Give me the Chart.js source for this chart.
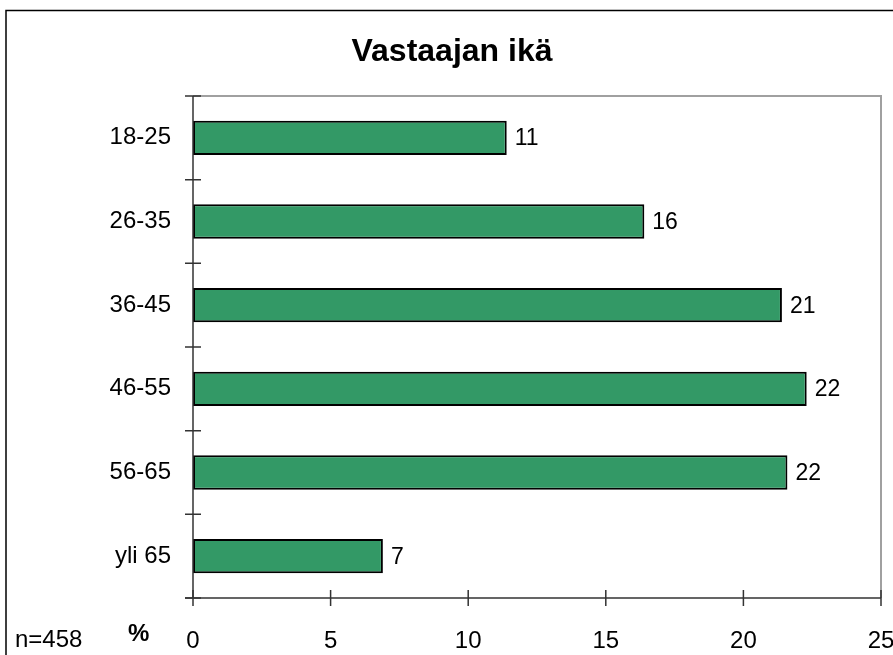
<!DOCTYPE html>
<html>
<head>
<meta charset="utf-8">
<title>Vastaajan ikä</title>
<script src="https://cdn.jsdelivr.net/npm/chart.js@4/dist/chart.umd.min.js"></script>
<style>
  html, body { margin: 0; padding: 0; background: #fff; }
  canvas { display: block; }
</style>
</head>
<body>
<canvas id="ageChart" width="893" height="655"></canvas>
<script>
// age groups and share of respondents (%)
var ageGroups = ['18-25', '26-35', '36-45', '46-55', '56-65', 'yli 65'];
var shares = [11.4, 16.4, 21.4, 22.3, 21.6, 6.9];
var xTicks = [0, 5, 10, 15, 20, 25];
var sampleNote = 'n=458';
var unitNote = '%';

var FONT = '"Liberation Sans", Arial, sans-serif';

// frame, cross ticks, value labels and the n / % notes
var decorations = {
  id: 'decorations',
  beforeDraw: function (chart) {
    var ctx = chart.ctx;
    ctx.save();
    ctx.fillStyle = '#fff';
    ctx.fillRect(0, 0, chart.width, chart.height);
    ctx.strokeStyle = '#000';
    ctx.lineWidth = 1.5;
    ctx.beginPath();
    ctx.moveTo(6, chart.height + 5);
    ctx.lineTo(6, 10.5);
    ctx.lineTo(chart.width + 5, 10.5);
    ctx.stroke();
    ctx.restore();
  },
  afterDatasetsDraw: function (chart) {
    var ctx = chart.ctx;
    var area = chart.chartArea;
    var xs = chart.scales.x;
    var ys = chart.scales.y;
    ctx.save();

    // grey top and right edges of the plot
    ctx.strokeStyle = '#a0a0a0';
    ctx.lineWidth = 2;
    ctx.beginPath();
    ctx.moveTo(area.left, area.top);
    ctx.lineTo(area.right, area.top);
    ctx.lineTo(area.right, area.bottom);
    ctx.stroke();

    // axes
    ctx.strokeStyle = '#333';
    ctx.lineWidth = 1.5;
    ctx.beginPath();
    ctx.moveTo(area.left, area.top);
    ctx.lineTo(area.left, area.bottom);
    ctx.moveTo(area.left - 8, area.bottom);
    ctx.lineTo(area.right, area.bottom);
    ctx.stroke();

    // tick marks crossing the axes
    ctx.beginPath();
    for (var i = 0; i <= ageGroups.length; i++) {
      var y = ys.getPixelForValue(i - 0.5);
      ctx.moveTo(area.left - 8, y);
      ctx.lineTo(area.left + 8, y);
    }
    xTicks.forEach(function (v) {
      var x = xs.getPixelForValue(v);
      ctx.moveTo(x, area.bottom - 8);
      ctx.lineTo(x, area.bottom + 8);
    });
    ctx.stroke();

    // value labels at bar ends
    ctx.fillStyle = '#000';
    ctx.font = '23px ' + FONT;
    ctx.textAlign = 'left';
    ctx.textBaseline = 'middle';
    chart.getDatasetMeta(0).data.forEach(function (bar, idx) {
      ctx.fillText(String(Math.round(shares[idx])), bar.x + 8, bar.y + 1);
    });

    // notes in the lower left corner
    ctx.font = '24px ' + FONT;
    ctx.textBaseline = 'alphabetic';
    ctx.fillText(sampleNote, 15, 647);
    ctx.font = 'bold 24px ' + FONT;
    ctx.fillText(unitNote, 128, 641);
    ctx.restore();
  }
};

new Chart(document.getElementById('ageChart'), {
  type: 'bar',
  data: {
    labels: ageGroups,
    datasets: [{
      data: shares,
      backgroundColor: '#339966',
      borderColor: '#000',
      borderWidth: 2,
      borderSkipped: false,
      categoryPercentage: 1,
      barPercentage: 0.41
    }]
  },
  options: {
    indexAxis: 'y',
    responsive: false,
    animation: false,
    devicePixelRatio: 1,
    layout: { padding: { left: 23, right: 12, top: 0, bottom: 0 } },
    plugins: {
      legend: { display: false },
      tooltip: { enabled: false },
      title: {
        display: true,
        text: 'Vastaajan ikä',
        color: '#000',
        font: { family: FONT, size: 32, weight: 'bold' },
        padding: { top: 33, bottom: 24.6 }
      }
    },
    scales: {
      x: {
        min: 0,
        max: 25,
        afterBuildTicks: function (scale) {
          scale.ticks = xTicks.map(function (v) { return { value: v }; });
        },
        afterFit: function (scale) {
          scale.height = 57;
          scale.paddingLeft = 0;
          scale.paddingRight = 0;
        },
        grid: { display: false },
        border: { display: false },
        ticks: {
          color: '#000',
          font: { family: FONT, size: 24 },
          padding: 21,
          maxRotation: 0,
          autoSkip: false
        }
      },
      y: {
        afterFit: function (scale) {
          scale.width = 170;
        },
        grid: { display: false },
        border: { display: false },
        ticks: {
          color: '#000',
          font: { family: FONT, size: 24 },
          padding: 14
        }
      }
    }
  },
  plugins: [decorations]
});
</script>
</body>
</html>
